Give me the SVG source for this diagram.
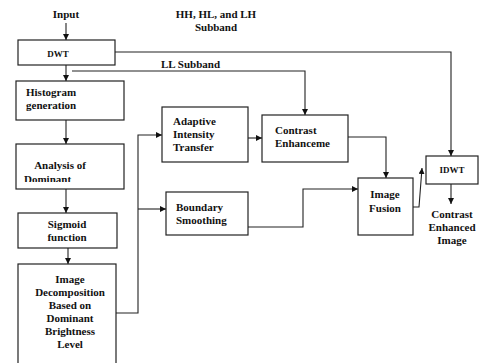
<svg xmlns="http://www.w3.org/2000/svg" width="480" height="363" viewBox="0 0 480 363">
<style>
.box{fill:#fff;stroke:#222;stroke-width:1.2}
.ln{fill:none;stroke:#222;stroke-width:1.1}
text{font-family:"Liberation Serif","Times New Roman",serif;font-weight:bold;font-size:11px;fill:#111}
.c{text-anchor:middle}
.s{font-size:9px}
</style>
<defs>
<marker id="ah" viewBox="0 0 10 10" refX="10" refY="5" markerWidth="6" markerHeight="6" markerUnits="userSpaceOnUse" orient="auto">
<path d="M0,0 L10,5 L0,10 z" fill="#111"/>
</marker>
<clipPath id="clipA"><rect x="16" y="144" width="108" height="38"/></clipPath>
</defs>
<g id="connectors" class="ln">
<path class="ln" d="M66,23 V40" marker-end="url(#ah)"/>
<path class="ln" d="M66,65 V81" marker-end="url(#ah)"/>
<path class="ln" d="M72,71 H305 V115" marker-end="url(#ah)"/>
<path class="ln" d="M115,52 H451 V156" marker-end="url(#ah)"/>
<path class="ln" d="M66,120 V144" marker-end="url(#ah)"/>
<path class="ln" d="M66,189 V213" marker-end="url(#ah)"/>
<path class="ln" d="M68,248 V264" marker-end="url(#ah)"/>
<path class="ln" d="M116,313 H138 V135 H162" marker-end="url(#ah)"/>
<path class="ln" d="M138,209 H166" marker-end="url(#ah)"/>
<path class="ln" d="M248,138 H262" marker-end="url(#ah)"/>
<path class="ln" d="M348,137 H386 V178" marker-end="url(#ah)"/>
<path class="ln" d="M248,227 H303 V189 H358" marker-end="url(#ah)"/>
<path class="ln" d="M413,207 H419 L422,168" marker-end="url(#ah)"/>
<path class="ln" d="M451,184 V204" marker-end="url(#ah)"/>
</g>
<g id="input"><text class="c" x="66" y="18">Input</text></g>
<g id="hh-label"><text class="c" x="216" y="18">HH, HL, and LH</text><text class="c" x="216" y="31">Subband</text></g>
<g id="ll-label"><text x="161" y="68">LL Subband</text></g>
<g id="dwt"><rect class="box" x="18" y="40" width="97" height="25"/><text class="c s" x="58" y="57">DWT</text></g>
<g id="histogram"><rect class="box" x="16" y="81" width="108" height="39"/><text x="26" y="96">Histogram</text><text x="26" y="109">generation</text></g>
<g id="analysis"><rect class="box" x="16" y="144" width="108" height="45"/><g clip-path="url(#clipA)"><text class="c" x="60" y="169">Analysis of</text><text x="24" y="183">Dominant</text></g></g>
<g id="sigmoid"><rect class="box" x="18" y="213" width="99" height="35"/><text class="c" x="67" y="228">Sigmoid</text><text class="c" x="67" y="241">function</text></g>
<g id="decomposition"><rect class="box" x="18" y="264" width="98" height="110"/>
<text class="c" x="70" y="283">Image</text><text class="c" x="70" y="296">Decomposition</text><text class="c" x="70" y="309">Based on</text><text class="c" x="70" y="322">Dominant</text><text class="c" x="70" y="335">Brightness</text><text class="c" x="70" y="348">Level</text></g>
<g id="adaptive"><rect class="box" x="162" y="107" width="86" height="55"/><text x="173" y="125">Adaptive</text><text x="173" y="138">Intensity</text><text x="173" y="151">Transfer</text></g>
<g id="contrast"><rect class="box" x="262" y="115" width="86" height="47"/><text x="275" y="134">Contrast</text><text x="275" y="147">Enhanceme</text></g>
<g id="boundary"><rect class="box" x="166" y="192" width="82" height="43"/><text x="176" y="211">Boundary</text><text x="176" y="224">Smoothing</text></g>
<g id="fusion"><rect class="box" x="358" y="178" width="55" height="57"/><text class="c" x="385" y="198">Image</text><text class="c" x="385" y="212">Fusion</text></g>
<g id="idwt"><rect class="box" x="426" y="156" width="52" height="28"/><text class="c s" x="452" y="173">IDWT</text></g>
<g id="output"><text class="c" x="452" y="218">Contrast</text><text class="c" x="452" y="231">Enhanced</text><text class="c" x="452" y="244">Image</text></g>
</svg>
